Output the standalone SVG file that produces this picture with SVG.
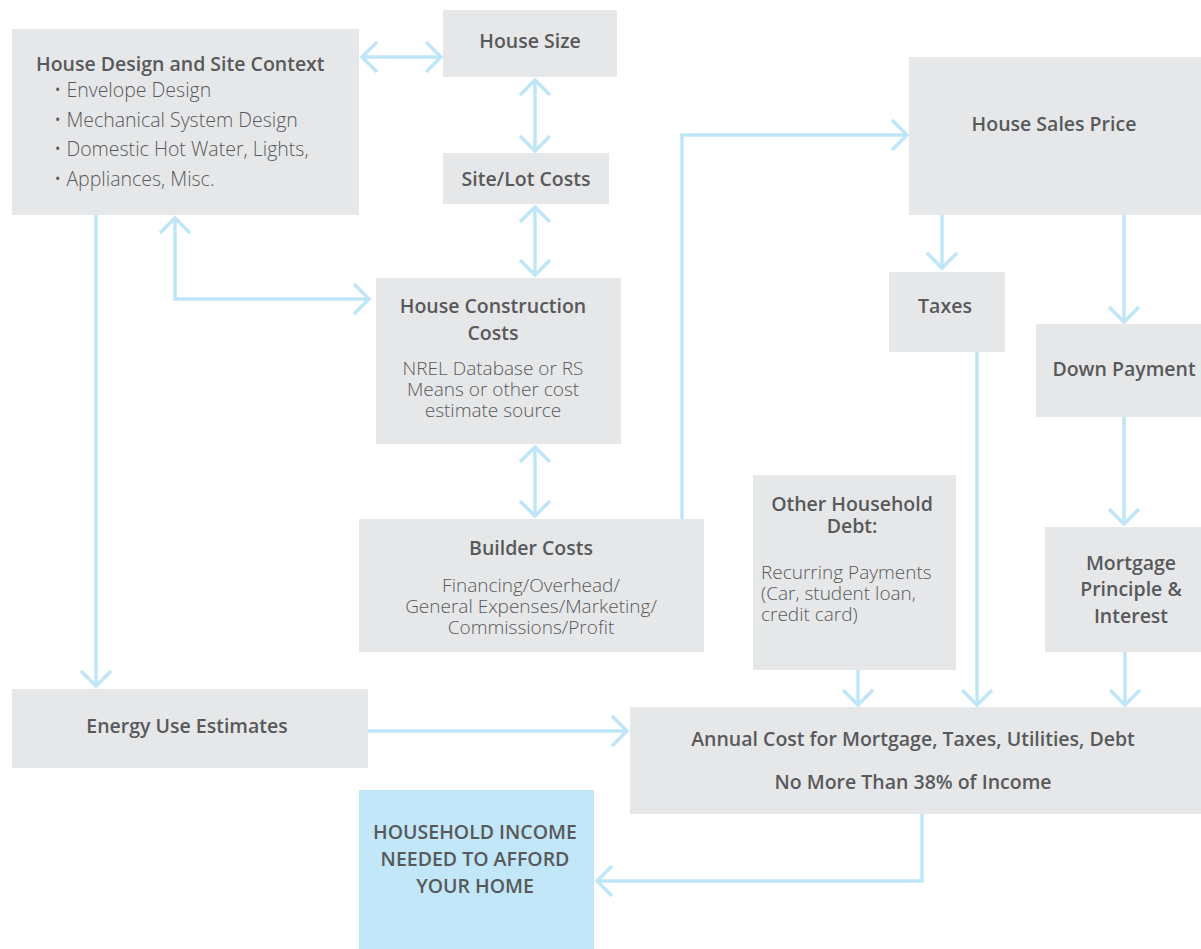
<svg xmlns="http://www.w3.org/2000/svg" width="1201" height="949" viewBox="0 0 1201 949">
<style>
.box{fill:#e6e7e8}
.hl{fill:#c1e7f8}
.t{font-family:"Open Sans","Liberation Sans",sans-serif;fill:#58595b}
.h{font-size:19.5px;font-weight:600;text-anchor:middle}
.b{font-size:19.5px;font-weight:300}
.s{font-size:19px}
.c{text-anchor:middle}
.cn{fill:none;stroke:#bfe6f7;stroke-width:3.5}
</style>
<defs>
<marker id="ah" markerUnits="userSpaceOnUse" viewBox="-18 -18 22 36" markerWidth="22" markerHeight="36" refX="0" refY="0" orient="auto-start-reverse">
<path d="M-15,-15 L0,0 L-15,15" fill="none" stroke="#bfe6f7" stroke-width="3.5"/>
</marker>
</defs>
<rect width="1201" height="949" fill="#ffffff"/>

<g id="connectors">
<path class="cn" d="M362,57 L441,57" marker-start="url(#ah)" marker-end="url(#ah)"/>
<path class="cn" d="M535,80 L535,151" marker-start="url(#ah)" marker-end="url(#ah)"/>
<path class="cn" d="M535,207 L535,275" marker-start="url(#ah)" marker-end="url(#ah)"/>
<path class="cn" d="M535,447 L535,516" marker-start="url(#ah)" marker-end="url(#ah)"/>
<path class="cn" d="M175,218 L175,299 L369,299" marker-start="url(#ah)" marker-end="url(#ah)"/>
<path class="cn" d="M96,215 L96,686" marker-end="url(#ah)"/>
<path class="cn" d="M682,519 L682,135 L907,135" marker-end="url(#ah)"/>
<path class="cn" d="M942,215 L942,268" marker-end="url(#ah)"/>
<path class="cn" d="M1124,215 L1124,322" marker-end="url(#ah)"/>
<path class="cn" d="M977,352 L977,705" marker-end="url(#ah)"/>
<path class="cn" d="M1124,417 L1124,524" marker-end="url(#ah)"/>
<path class="cn" d="M858,670 L858,705" marker-end="url(#ah)"/>
<path class="cn" d="M1125,652 L1125,705" marker-end="url(#ah)"/>
<path class="cn" d="M368,731 L627,731" marker-end="url(#ah)"/>
<path class="cn" d="M922,814 L922,881 L597,881" marker-end="url(#ah)"/>
</g>

<g id="house-design">
<rect class="box" x="12" y="29" width="347" height="186"/>
<text class="t h" x="36" y="71" style="text-anchor:start">House Design and Site Context</text>
<text class="t b" x="54" y="97">• Envelope Design</text>
<text class="t b" x="54" y="127">• Mechanical System Design</text>
<text class="t b" x="54" y="156">• Domestic Hot Water, Lights,</text>
<text class="t b" x="54" y="186">• Appliances, Misc.</text>
</g>

<g id="house-size">
<rect class="box" x="443" y="10" width="174" height="67"/>
<text class="t h" x="530" y="48">House Size</text>
</g>

<g id="site-lot">
<rect class="box" x="443" y="153" width="166" height="51"/>
<text class="t h" x="526" y="186">Site/Lot Costs</text>
</g>

<g id="construction">
<rect class="box" x="376" y="278" width="245" height="166"/>
<text class="t h" x="493" y="313">House Construction</text>
<text class="t h" x="493" y="340">Costs</text>
<text class="t b c s" x="493" y="375">NREL Database or RS</text>
<text class="t b c s" x="493" y="396">Means or other cost</text>
<text class="t b c s" x="493" y="417">estimate source</text>
</g>

<g id="builder">
<rect class="box" x="359" y="519" width="345" height="133"/>
<text class="t h" x="531" y="555">Builder Costs</text>
<text class="t b c s" x="531" y="592">Financing/Overhead/</text>
<text class="t b c s" x="531" y="613">General Expenses/Marketing/</text>
<text class="t b c s" x="531" y="634">Commissions/Profit</text>
</g>

<g id="sales-price">
<rect class="box" x="909" y="57" width="292" height="158"/>
<text class="t h" x="1054" y="131">House Sales Price</text>
</g>

<g id="taxes">
<rect class="box" x="889" y="272" width="116" height="80"/>
<text class="t h" x="945" y="313">Taxes</text>
</g>

<g id="down-payment">
<rect class="box" x="1036" y="324" width="165" height="93"/>
<text class="t h" x="1124" y="376">Down Payment</text>
</g>

<g id="other-debt">
<rect class="box" x="753" y="475" width="203" height="195"/>
<text class="t h" x="852" y="511">Other Household</text>
<text class="t h" x="852" y="533">Debt:</text>
<text class="t b s" x="761" y="579">Recurring Payments</text>
<text class="t b s" x="761" y="600">(Car, student loan,</text>
<text class="t b s" x="761" y="621">credit card)</text>
</g>

<g id="mortgage">
<rect class="box" x="1045" y="527" width="156" height="125"/>
<text class="t h" x="1131" y="570">Mortgage</text>
<text class="t h" x="1131" y="596">Principle &amp;</text>
<text class="t h" x="1131" y="623">Interest</text>
</g>

<g id="energy">
<rect class="box" x="12" y="689" width="356" height="79"/>
<text class="t h" x="187" y="733">Energy Use Estimates</text>
</g>

<g id="annual">
<rect class="box" x="630" y="707" width="571" height="107"/>
<text class="t h" x="913" y="746">Annual Cost for Mortgage, Taxes, Utilities, Debt</text>
<text class="t h" x="913" y="789">No More Than 38% of Income</text>
</g>

<g id="income">
<rect class="hl" x="359" y="790" width="235" height="159"/>
<text class="t h" x="475" y="839">HOUSEHOLD INCOME</text>
<text class="t h" x="475" y="866">NEEDED TO AFFORD</text>
<text class="t h" x="475" y="893">YOUR HOME</text>
</g>
</svg>
